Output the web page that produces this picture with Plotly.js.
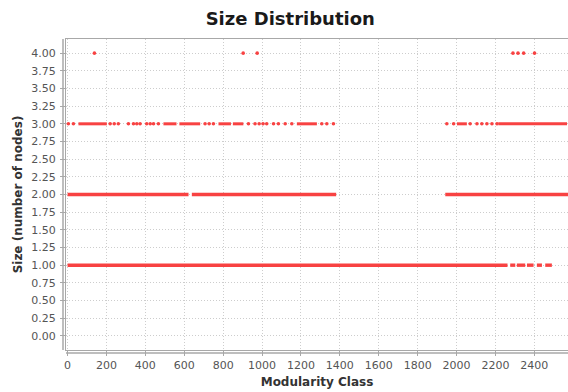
<!DOCTYPE html>
<html>
<head>
<meta charset="utf-8">
<script src="https://cdn.plot.ly/plotly-3.0.1.min.js"></script>
<style>
  html, body { margin: 0; padding: 0; background: #ffffff; }
  #chart { width: 568px; height: 392px; }
</style>
</head>
<body>
<div id="chart"></div>
<script>
// Modularity classes grouped by community size (number of nodes).
// Contiguous stretches of classes sharing a size are stored as [first, last] runs;
// isolated classes are stored individually.
const size1Runs = [[0, 2262], [2276, 2302], [2310, 2353], [2362, 2396], [2413, 2439], [2456, 2490]];
const size2Runs = [[0, 622], [639, 1381], [1942, 2573]];
const size3Runs = [[56, 202], [493, 560], [575, 682], [776, 840], [850, 904], [1179, 1282], [2002, 2053], [2215, 2568]];
const size3Classes = [4, 30, 219, 240, 261, 313, 339, 356, 373, 407, 425, 442, 467, 707, 728, 750,
                      930, 964, 985, 1005, 1024, 1059, 1084, 1119, 1153, 1307, 1333, 1367,
                      1950, 1985, 2070, 2105, 2130, 2156, 2182, 2208];
const size4Classes = [138, 903, 975, 2290, 2316, 2345, 2401];

const yTickValues = [0, 0.25, 0.5, 0.75, 1, 1.25, 1.5, 1.75, 2, 2.25, 2.5, 2.75, 3, 3.25, 3.5, 3.75, 4];
const xTickValues = [0, 200, 400, 600, 800, 1000, 1200, 1400, 1600, 1800, 2000, 2200, 2400];

const RED = 'rgb(248,66,66)';

function runTrace(runs, size, width) {
  const xs = [], ys = [];
  runs.forEach(r => { xs.push(r[0], r[1], null); ys.push(size, size, null); });
  return {
    type: 'scatter', mode: 'lines', x: xs, y: ys,
    line: { color: RED, width: width }, hoverinfo: 'skip', showlegend: false
  };
}

function pointTrace(classes, size) {
  return {
    type: 'scatter', mode: 'markers', x: classes, y: classes.map(() => size),
    marker: { color: RED, size: 3.6, symbol: 'circle', line: { width: 0 } },
    hoverinfo: 'skip', showlegend: false
  };
}

const traces = [
  runTrace(size1Runs, 1, 3.4),
  runTrace(size2Runs, 2, 3.4),
  runTrace(size3Runs, 3, 3),
  pointTrace(size3Classes, 3),
  pointTrace(size4Classes, 4)
];

const FONT = 'DejaVu Sans, Liberation Sans, sans-serif';
const PLOT_W = 568 - 66, PLOT_H = 392 - 39 - 42;
const GRID = '#cdcdcd';

const layout = {
  width: 568, height: 392,
  margin: { l: 66, r: 0, t: 39, b: 42, pad: 0 },
  paper_bgcolor: '#ffffff', plot_bgcolor: '#ffffff',
  font: { family: FONT, size: 11, color: '#555555' },
  title: {
    text: '<b>Size Distribution</b>',
    font: { family: FONT, size: 18, color: '#1a1a1a' },
    x: 0.511, xref: 'container', xanchor: 'center',
    y: 1 - 19 / 392, yref: 'container', yanchor: 'middle'
  },
  xaxis: {
    range: [-8, 2573],
    tickvals: xTickValues, ticktext: xTickValues.map(String),
    showgrid: true, gridcolor: GRID, griddash: '1px,2px', gridwidth: 1,
    zeroline: false,
    showline: true, mirror: true, linecolor: '#a8a8a8', linewidth: 1,
    ticks: 'outside', ticklen: 5, tickcolor: '#a8a8a8', tickwidth: 1,
    tickfont: { family: FONT, size: 11, color: '#555555' },
    title: { text: '<b>Modularity Class</b>', font: { family: FONT, size: 12, color: '#333333' }, standoff: 6 }
  },
  yaxis: {
    range: [-0.2, 4.2],
    tickvals: yTickValues, ticktext: yTickValues.map(v => v.toFixed(2)),
    showgrid: true, gridcolor: GRID, griddash: '1px,2px', gridwidth: 1,
    zeroline: false,
    showline: true, mirror: false, linecolor: '#a8a8a8', linewidth: 1,
    ticks: 'outside', ticklen: 5, tickcolor: '#a8a8a8', tickwidth: 1,
    ticklabelstandoff: 2,
    tickfont: { family: FONT, size: 11, color: '#555555' },
    title: { text: '<b>Size (number of nodes)</b>', font: { family: FONT, size: 12, color: '#333333' }, standoff: 6 }
  },
  shapes: [
    // offset axis lines drawn just outside the plot frame
    { type: 'line', xref: 'paper', yref: 'paper', x0: -3 / PLOT_W, x1: -3 / PLOT_W, y0: 0, y1: 1,
      line: { color: '#a8a8a8', width: 1.5 } },
    { type: 'line', xref: 'paper', yref: 'paper', x0: 0, x1: 1, y0: -3 / PLOT_H, y1: -3 / PLOT_H,
      line: { color: '#a8a8a8', width: 1.5 } }
  ]
};

Plotly.newPlot('chart', traces, layout, { staticPlot: true, displayModeBar: false });
</script>
</body>
</html>
